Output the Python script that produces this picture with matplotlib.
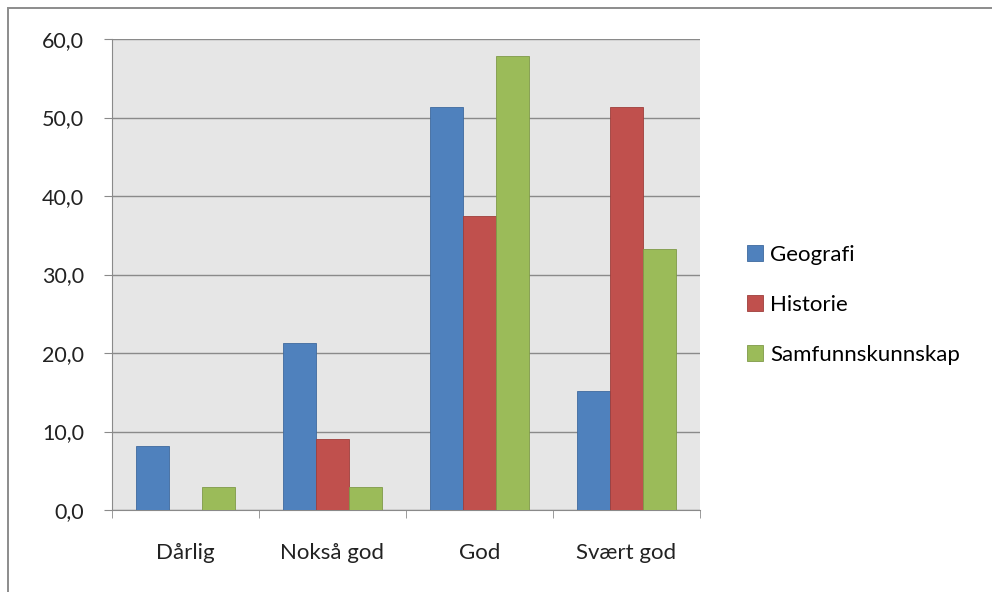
import numpy as np
import matplotlib.pyplot as plt
from matplotlib.patches import Rectangle

plt.rcParams['font.family'] = ['Lato', 'DejaVu Sans']

categories = ["Dårlig", "Nokså god", "God", "Svært god"]
series = ["Geografi", "Historie", "Samfunnskunnskap"]
geografi = [8.1, 21.3, 51.4, 15.2]
historie = [0.0, 9.0, 37.4, 51.4]
samfunn = [2.9, 2.9, 57.8, 33.3]
colors = ["#4f81bd", "#c0504d", "#9bbb59"]
edges = ["#3f6a9e", "#9e3e3b", "#7f9a48"]

fig = plt.figure(figsize=(9.92, 5.92), dpi=100)
# chart frame: only the left and top edges fall inside the picture
fig.patches.append(Rectangle((8 / 992, -0.05), 1.1, 1.05 - 8 / 592, transform=fig.transFigure,
                             fill=False, edgecolor="#8c8c8c", linewidth=1.4))
ax = fig.add_axes([112 / 992, 1 - 510 / 592, 588 / 992, 471 / 592])
ax.set_facecolor("#e6e6e6")

x = np.arange(len(categories))
w = 0.225
for i, (vals, name) in enumerate(zip([geografi, historie, samfunn], series)):
    ax.bar(x + (i - 1) * w, vals, w, color=colors[i], edgecolor=edges[i],
           linewidth=0.6, label=name, zorder=3)

ax.set_xlim(-0.5, len(categories) - 0.5)
ax.set_ylim(0, 60)
ax.set_yticks(np.arange(0, 61, 10))
ax.set_yticklabels([f"{v:.1f}".replace(".", ",") for v in np.arange(0, 61, 10)])
ax.yaxis.grid(True, color="#8a8a8a", linewidth=1.0, zorder=0)
ax.set_axisbelow(True)

ax.set_xticks(x)
ax.set_xticklabels(categories)
ax.set_xticks(np.arange(-0.5, len(categories), 1), minor=True)
ax.tick_params(axis="x", which="major", length=0, pad=24, labelsize=16, labelcolor="#222222")
ax.tick_params(axis="x", which="minor", length=6, color="#8a8a8a", direction="out")
ax.tick_params(axis="y", length=6, color="#8a8a8a", direction="out", pad=14,
               labelsize=15.5, labelcolor="#222222")

for s in ["top", "right"]:
    ax.spines[s].set_visible(False)
for s in ["left", "bottom"]:
    ax.spines[s].set_color("#8a8a8a")

fig.legend(loc="center left", bbox_to_anchor=(727 / 992, 1 - 305 / 592), frameon=False,
           fontsize=16, handlelength=0.7, handleheight=0.7, handletextpad=0.35,
           labelspacing=1.35)

fig.savefig("out.png", dpi=100)
